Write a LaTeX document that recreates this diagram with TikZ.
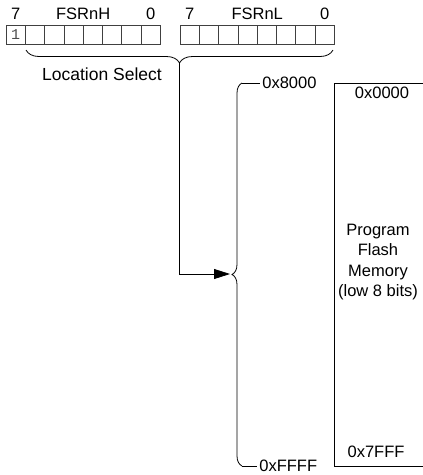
\documentclass[tikz,border=0pt]{standalone}
\usepackage{fontspec}
\setmainfont{Liberation Sans}
\newfontfamily\monofont{Liberation Mono}
\usetikzlibrary{decorations.pathreplacing,arrows.meta}
\begin{document}
\begin{tikzpicture}[x=1pt, y=1pt, line width=0.8pt,
  font=\fontsize{16.5}{20.5}\selectfont,
  cell/.style={draw=black!75},
  bracket/.style={decorate, decoration={brace, amplitude=#1}}]
  \useasboundingbox (0,0) rectangle (423,-475);
  \clip (0,0) rectangle (423,-475);
  % register cells FSRnH and FSRnL
  \foreach \x/\reg in {6/H,180/L} {
    \foreach \i in {0,...,7}
      \draw[cell] ({\x+\i*19.3},-25) rectangle ++(19.3,-19);
    \node (msb\reg) at ({\x+9.65},-14) {7};
    \node (lsb\reg) at ({\x+144.75},-14) {0};
    \node (name\reg) at ({\x+77.2},-14) {FSRn\reg};
  }
  \node[text=black!70, font=\monofont\fontsize{15}{15}\selectfont] (bitOne) at (15.6,-34.5) {1};
  % location select brace
  \draw[bracket=13pt, decoration={mirror}] (26,-50) -- (333,-50);
  \coordinate (selTip) at (179.5,-63);
  \node[font=\fontsize{17.5}{20}\selectfont] (locSel) at (102,-74) {Location Select};
  % address range brace
  \coordinate (rangeTop) at (242,-83);
  \coordinate (rangeBot) at (242,-466);
  \coordinate (memTip) at (230,-274);
  \draw[bracket=10pt] (rangeBot) -- (rangeTop);
  \draw (rangeTop) -- ++(18,0) node[anchor=west, inner sep=2pt] (addrHi) {0x8000};
  \draw (rangeBot) -- ++(15,0) node[anchor=west, inner sep=2pt] (addrLo) {0xFFFF};
  \draw[-{Triangle[length=16pt, width=10pt]}] (selTip) |- (memTip);
  % program flash memory
  \draw (334,-83) rectangle (440,-466);
  \node (flashTop) at (382,-93) {0x0000};
  \node (flashBot) at (376,-452) {0x7FFF};
  \node[align=center] (flash) at (378,-262) {Program\\Flash\\Memory\\(low 8 bits)};
\end{tikzpicture}
\end{document}
